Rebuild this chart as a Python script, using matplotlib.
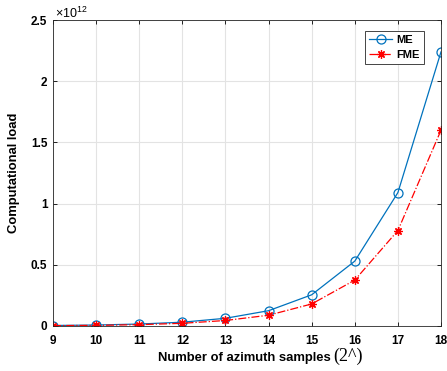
import numpy as np
import matplotlib
matplotlib.use("Agg")
import matplotlib.pyplot as plt

# azimuth samples exponent (2^n)
samples = [9, 10, 11, 12, 13, 14, 15, 16, 17, 18]
me_load = [0.004, 0.008, 0.016, 0.031, 0.063, 0.125, 0.255, 0.53, 1.09, 2.24]
fme_load = [0.003, 0.005, 0.011, 0.022, 0.045, 0.088, 0.18, 0.375, 0.78, 1.6]
yticks = [0, 0.5, 1, 1.5, 2, 2.5]
ytick_labels = ['0', '0.5', '1', '1.5', '2', '2.5']

plt.rcParams['font.family'] = ['Liberation Sans', 'DejaVu Sans']
plt.rcParams['mathtext.fontset'] = 'custom'
plt.rcParams['mathtext.rm'] = 'Liberation Sans'
plt.rcParams['mathtext.it'] = 'Liberation Sans'

fig = plt.figure(figsize=(4.47, 3.71), dpi=100)
ax = fig.add_axes([0.1186, 0.1213, 0.868, 0.8247])

ax.plot(samples, me_load, color='#0072BD', marker='o', markersize=6.5,
        markerfacecolor='none', markeredgewidth=0.9, linewidth=0.9, label='ME')
ax.plot(samples, fme_load, color='red', marker=(8, 2, 0), markersize=6,
        markeredgewidth=0.9, linestyle='-.', linewidth=0.9, label='FME')

ax.set_xlim(9, 18)
ax.set_ylim(0, 2.5)
ax.set_xticks(samples)
ax.set_yticks(yticks)
ax.set_yticklabels(ytick_labels)
ax.grid(True, color='#e3e3e3', linewidth=0.8)
ax.set_axisbelow(True)
ax.tick_params(direction='in', top=True, right=True, length=3,
               labelsize=8.5, width=0.6)
ax.tick_params(axis='x', pad=6.5)
ax.tick_params(axis='y', pad=4)
for lab in ax.get_xticklabels() + ax.get_yticklabels():
    lab.set_fontweight('bold')
for sp in ax.spines.values():
    sp.set_linewidth(0.6)
    sp.set_color('#262626')

ax.set_ylabel('Computational load', fontsize=9.4, fontweight='bold')
ax.yaxis.set_label_coords(-0.085, 0.5)
fig.text(158 / 447, 10 / 371, 'Number of azimuth samples', fontsize=9.4,
         fontweight='bold', ha='left', va='baseline')
fig.text(333 / 447, 10 / 371, '(2^)', fontsize=13, family='Liberation Serif',
         ha='left', va='baseline')
fig.text(55 / 447, 353 / 371, r'$\times10^{12}$', fontsize=9, ha='left',
         va='baseline')

leg = ax.legend(loc='upper right', bbox_to_anchor=(0.956, 0.964),
                borderaxespad=0, prop={'weight': 'bold', 'size': 8},
                fancybox=False, edgecolor='#262626', framealpha=1,
                handlelength=2.1, handletextpad=0.4, borderpad=0.35,
                labelspacing=0.45)
leg.get_frame().set_linewidth(0.6)

fig.savefig('out.png', dpi=100)
